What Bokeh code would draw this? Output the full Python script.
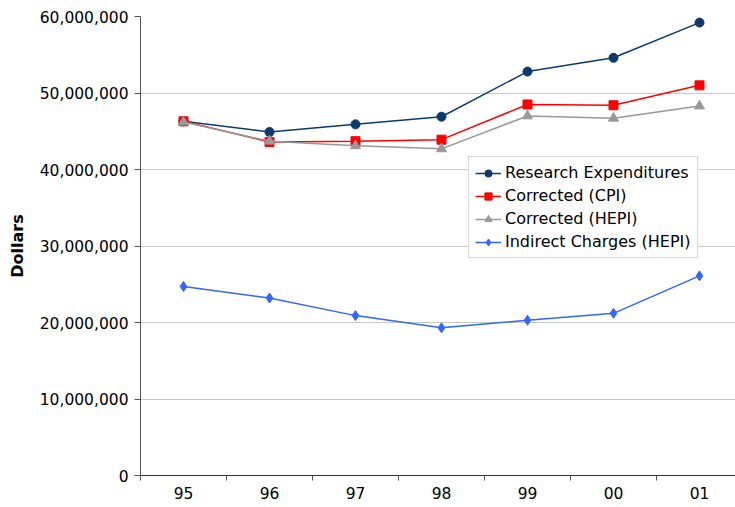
from bokeh.plotting import figure
from bokeh.models import FixedTicker, NumeralTickFormatter, Legend, LegendItem, Range1d
from bokeh.embed import file_html
from bokeh.resources import INLINE

years = ["95", "96", "97", "98", "99", "00", "01"]
research = [46.3e6, 44.9e6, 45.9e6, 46.9e6, 52.8e6, 54.6e6, 59.2e6]
cpi = [46.3e6, 43.6e6, 43.7e6, 43.9e6, 48.5e6, 48.4e6, 51.0e6]
hepi = [46.2e6, 43.7e6, 43.1e6, 42.7e6, 47.0e6, 46.7e6, 48.3e6]
indirect = [24.7e6, 23.2e6, 20.9e6, 19.3e6, 20.3e6, 21.2e6, 26.1e6]

xs = [i + 0.5 for i in range(len(years))]
FONT = "DejaVu Sans"

p = figure(width=735, height=507, output_backend="svg", toolbar_location=None,
           x_range=Range1d(0, 595 / 86), y_range=Range1d(0, 60e6),
           min_border_left=140, min_border_right=0, min_border_top=16, min_border_bottom=32)
p.outline_line_color = None
p.background_fill_color = "white"

p.xgrid.visible = False
p.ygrid.grid_line_color = "#c8c8c8"
p.ygrid.grid_line_width = 1
p.ygrid.ticker = FixedTicker(ticks=[i * 10e6 for i in range(7)])

p.yaxis.ticker = FixedTicker(ticks=[i * 10e6 for i in range(7)])
p.yaxis.formatter = NumeralTickFormatter(format="0,0")
p.yaxis.axis_label = "Dollars"
p.yaxis.axis_label_text_font = FONT
p.yaxis.axis_label_text_font_style = "bold"
p.yaxis.axis_label_text_font_size = "16px"
p.yaxis.axis_label_text_color = "black"
p.yaxis.axis_label_standoff = 10
p.yaxis.major_label_text_font = FONT
p.yaxis.major_label_text_font_size = "15.5px"
p.yaxis.major_label_text_color = "black"
p.yaxis.major_label_standoff = 6
p.yaxis.major_tick_out = 6
p.yaxis.major_tick_in = 0
p.yaxis.minor_tick_line_color = None
p.yaxis.axis_line_color = "#555555"
p.yaxis.major_tick_line_color = "#555555"

p.xaxis.ticker = FixedTicker(ticks=xs, minor_ticks=list(range(8)))
p.xaxis.major_label_overrides = {x: y for x, y in zip(xs, years)}
p.xaxis.major_label_text_font = FONT
p.xaxis.major_label_text_font_size = "15.5px"
p.xaxis.major_label_text_color = "black"
p.xaxis.major_tick_line_color = None
p.xaxis.minor_tick_out = 5
p.xaxis.minor_tick_in = 0
p.xaxis.minor_tick_line_color = "#555555"
p.xaxis.axis_line_color = "#333333"
p.xaxis.major_label_standoff = 5

series = [
    ("Research Expenditures", research, "#0b3a6b", "circle", 9),
    ("Corrected (CPI)", cpi, "#ff0000", "square", 9),
    ("Corrected (HEPI)", hepi, "#999999", "triangle", 10),
    ("Indirect Charges (HEPI)", indirect, "#3366ff", "diamond", 10),
]
items = []
for name, vals, col, mk, sz in series:
    ln = p.line(xs, vals, line_color=col, line_width=1.5)
    sc = p.scatter(xs, vals, marker=mk, size=sz, fill_color=col, line_color=col)
    items.append(LegendItem(label=name, renderers=[ln, sc]))

legend = Legend(items=items, location=(328, 217), glyph_width=26, glyph_height=18,
                label_text_font=FONT, label_text_font_size="16px", label_text_color="black",
                spacing=4, padding=6, margin=0, border_line_color="#b0b0b0",
                label_standoff=4)
p.add_layout(legend, "center")

open("out.html", "w").write(file_html(p, INLINE))
